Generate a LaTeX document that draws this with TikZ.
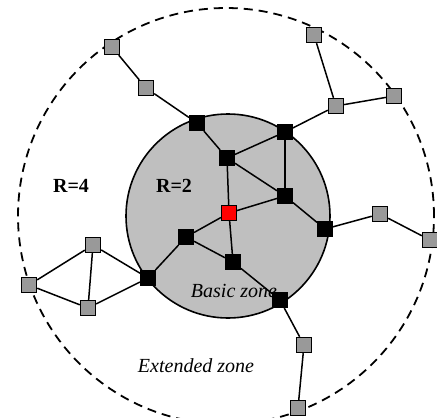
\documentclass[tikz,border=0pt]{standalone}
\usepackage{fontspec}
\setmainfont{Liberation Serif}
\usetikzlibrary{positioning}
\tikzstyle{core} = [rectangle, draw=black, fill=black, minimum size=15pt, inner sep=0pt, line width=1pt]
\tikzstyle{link} = [line width=1.5pt]

\begin{document}
\begin{tikzpicture}[
  x=1pt, y=-1pt,
  every node/.style={font=\fontsize{20}{24}\selectfont},
  outer/.style={rectangle, draw=black, fill=black!40, minimum size=15pt, inner sep=0pt, line width=1.4pt},
  source/.style={core, fill=red},
  basiczone/.style={draw=black, fill=black!25, line width=1.6pt},
  extzone/.style={draw=black, line width=1.8pt, dash pattern=on 9pt off 6pt}
]
\useasboundingbox (0,0) rectangle (437,418);

% Zones
\draw[extzone] (226,216) circle (208pt);
\draw[basiczone] (228,216) circle (102pt);

% Labels
\node[font=\bfseries\fontsize{20}{24}\selectfont] (r4) at (71,186) {R=4};
\node[font=\bfseries\fontsize{20}{24}\selectfont] (r2) at (174,186) {R=2};
\node[font=\itshape\fontsize{20}{24}\selectfont] (basic) at (234,291) {Basic zone};
\node[font=\itshape\fontsize{20}{24}\selectfont] (ext) at (196,366) {Extended zone};

% Nodes
\node[core] (b1) at (197,123) {};
\node[core] (b2) at (285,132) {};
\node[core] (b3) at (227,158) {};
\node[core] (b4) at (285,196) {};
\node[source] (src) at (229,213) {};
\node[core] (b5) at (186,237) {};
\node[core] (b6) at (233,262) {};
\node[core] (b7) at (325,229) {};
\node[core] (b8) at (148,278) {};
\node[core] (b9) at (280,300) {};

\node[outer] (g1) at (112,47) {};
\node[outer] (g2) at (146,88) {};
\node[outer] (g3) at (314,35) {};
\node[outer] (g4) at (336,106) {};
\node[outer] (g5) at (394,96) {};
\node[outer] (g6) at (380,214) {};
\node[outer] (g7) at (430,240) {};
\node[outer] (g8) at (93,245) {};
\node[outer] (g9) at (29,285) {};
\node[outer] (g10) at (88,308) {};
\node[outer] (g11) at (304,345) {};
\node[outer] (g12) at (298,408) {};

% Links
\draw[link] (g1) -- (g2);
\draw[link] (g2) -- (b1);
\draw[link] (b1) -- (b3);
\draw[link] (b3) -- (b2);
\draw[link] (b3) -- (b4);
\draw[link] (b3) -- (src);
\draw[link] (b2) -- (b4);
\draw[link] (b2) -- (g4);
\draw[link] (g4) -- (g3);
\draw[link] (g4) -- (g5);
\draw[link] (b5) -- (src);
\draw[link] (src) -- (b4);
\draw[link] (src) -- (b6);
\draw[link] (b4) -- (b7);
\draw[link] (b5) -- (b8);
\draw[link] (b5) -- (b6);
\draw[link] (b6) -- (b9);
\draw[link] (b7) -- (g6);
\draw[link] (g6) -- (g7);
\draw[link] (b8) -- (g8);
\draw[link] (b8) -- (g10);
\draw[link] (g8) -- (g10);
\draw[link] (g8) -- (g9);
\draw[link] (g9) -- (g10);
\draw[link] (b9) -- (g11);
\draw[link] (g11) -- (g12);

\end{tikzpicture}
\end{document}
